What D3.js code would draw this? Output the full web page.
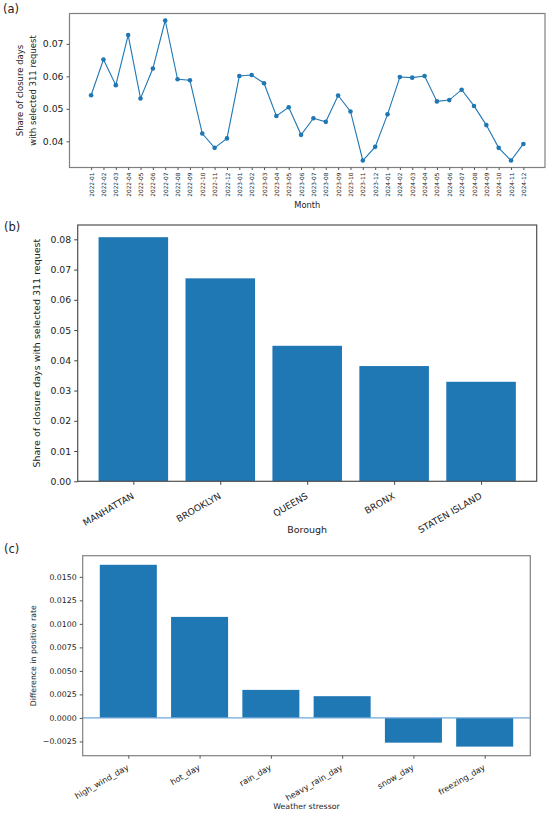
<!DOCTYPE html>
<html><head><meta charset="utf-8">
<script src="https://cdn.jsdelivr.net/npm/d3@7"></script>
<style>body{margin:0;background:#fff}svg{display:block}text{font-family:"DejaVu Sans",sans-serif;fill:#222}</style>
</head><body><svg id="c" width="550" height="813"></svg>
<script>
const months = ["2022-01","2022-02","2022-03","2022-04","2022-05","2022-06","2022-07","2022-08","2022-09","2022-10","2022-11","2022-12",
"2023-01","2023-02","2023-03","2023-04","2023-05","2023-06","2023-07","2023-08","2023-09","2023-10","2023-11","2023-12",
"2024-01","2024-02","2024-03","2024-04","2024-05","2024-06","2024-07","2024-08","2024-09","2024-10","2024-11","2024-12"];
const monthShare = [0.0542,0.0652,0.0573,0.0727,0.0532,0.0624,0.0772,0.0591,0.0588,0.0424,0.0380,0.0409,
0.0601,0.0604,0.0579,0.0478,0.0505,0.0420,0.0471,0.0460,0.0541,0.0492,0.0341,0.0383,
0.0483,0.0598,0.0596,0.0601,0.0523,0.0527,0.0559,0.0509,0.0450,0.0380,0.0341,0.0392];
const monthTicks = [0.04,0.05,0.06,0.07];

const boroughs = ["MANHATTAN","BROOKLYN","QUEENS","BRONX","STATEN ISLAND"];
const boroughShare = [0.0807,0.0671,0.0448,0.0381,0.0329];
const boroughTicks = [0,0.01,0.02,0.03,0.04,0.05,0.06,0.07,0.08];

const stressors = ["high_wind_day","hot_day","rain_day","heavy_rain_day","snow_day","freezing_day"];
const stressorDiff = [0.01628,0.01074,0.00298,0.00231,-0.00263,-0.00305];
const stressorTicks = [-0.0025,0,0.0025,0.005,0.0075,0.01,0.0125,0.015];

const blue = "#1f77b4";
const svg = d3.select("#c");

function pad(lo, hi){ const m=(hi-lo)*0.05; return [lo-m, hi+m]; }

function frame(g, x0, x1, y0, y1, col){
  g.append("rect").attr("x",x0).attr("y",y0).attr("width",x1-x0).attr("height",y1-y0)
   .attr("fill","none").attr("stroke",col).attr("stroke-width",1.2);
}

// ---------- Panel (a) ----------
{
  const L=69.5,R=545,T=13.5,B=167.5;
  const x=d3.scaleLinear().domain([-1.75, months.length-1+1.75]).range([L,R]);
  const y=d3.scaleLinear().domain(pad(d3.min(monthShare),d3.max(monthShare))).range([B,T]);
  const g=svg.append("g");
  g.append("path").datum(monthShare).attr("fill","none").attr("stroke",blue).attr("stroke-width",1.1)
   .attr("d",d3.line().x((d,i)=>x(i)).y(d=>y(d)));
  g.selectAll("circle").data(monthShare).join("circle").attr("cx",(d,i)=>x(i)).attr("cy",d=>y(d)).attr("r",2.3).attr("fill",blue);
  frame(g,L,R,T,B,"#808080");
  const ya=g.append("g").attr("transform",`translate(${L},0)`).call(d3.axisLeft(y).tickValues(monthTicks).tickFormat(d3.format(".2f")).tickSize(3).tickPadding(3));
  ya.select(".domain").remove();
  ya.selectAll("line").attr("stroke","#555");
  ya.selectAll("text").attr("font-size",9.3).attr("fill","#222");
  const xa=g.append("g").attr("transform",`translate(0,${B})`).call(d3.axisBottom(x).tickValues(d3.range(months.length)).tickFormat(i=>months[i]).tickSize(2.5).tickPadding(2));
  xa.select(".domain").remove();
  xa.selectAll("line").attr("stroke","#555");
  xa.selectAll("text").attr("font-size",5.8).attr("text-anchor","end").attr("dy","0.35em")
    .attr("transform","rotate(-90)").attr("x",-5).attr("y",0).attr("fill","#222");
  g.append("text").attr("x",(L+R)/2).attr("y",208).attr("text-anchor","middle").attr("font-size",8.3).text("Month");
  const yl=g.append("text").attr("transform",`translate(20.5,${(T+B)/2}) rotate(-90)`).attr("text-anchor","middle").attr("font-size",8.5);
  yl.append("tspan").attr("x",0).attr("dy","0.35em").text("Share of closure days");
  yl.append("tspan").attr("x",0).attr("dy","1.45em").text("with selected 311 request");
  svg.append("text").attr("x",3).attr("y",13).attr("font-size",11.5).text("(a)");
}

// ---------- Panel (b) ----------
{
  const L=77.7,R=536.7,T=225,B=481.3;
  const x=d3.scaleLinear().domain([-0.64, boroughs.length-1+0.64]).range([L,R]);
  const y=d3.scaleLinear().domain([0, d3.max(boroughShare)*1.05]).range([B,T]);
  const g=svg.append("g");
  const w=x(0.8)-x(0);
  g.selectAll("rect.bar").data(boroughShare).join("rect").attr("class","bar")
   .attr("x",(d,i)=>x(i)-w/2).attr("width",w).attr("y",d=>y(d)).attr("height",d=>y(0)-y(d)).attr("fill",blue);
  frame(g,L,R,T,B,"#505050");
  const ya=g.append("g").attr("transform",`translate(${L},0)`).call(d3.axisLeft(y).tickValues(boroughTicks).tickFormat(d3.format(".2f")).tickSize(3.5).tickPadding(3));
  ya.select(".domain").remove();
  ya.selectAll("line").attr("stroke","#444");
  ya.selectAll("text").attr("font-size",9.3).attr("fill","#222");
  const xa=g.append("g").attr("transform",`translate(0,${B})`).call(d3.axisBottom(x).tickValues(d3.range(boroughs.length)).tickFormat(i=>boroughs[i]).tickSize(3.5).tickPadding(3));
  xa.select(".domain").remove();
  xa.selectAll("line").attr("stroke","#444");
  xa.selectAll("text").attr("font-size",9.2).attr("text-anchor","end").attr("dy","0.75em")
    .attr("transform","translate(-2.5,10.5) rotate(-30)").attr("x",0).attr("y",0).attr("fill","#222");
  g.append("text").attr("x",(L+R)/2).attr("y",533).attr("text-anchor","middle").attr("font-size",9.5).text("Borough");
  g.append("text").attr("transform",`translate(37,${(T+B)/2}) rotate(-90)`).attr("text-anchor","middle").attr("dy","0.35em").attr("font-size",9.5)
   .text("Share of closure days with selected 311 request");
  svg.append("text").attr("x",4).attr("y",231).attr("font-size",11.5).text("(b)");
}

// ---------- Panel (c) ----------
{
  const L=82.7,R=530.3,T=555.7,B=755.7;
  const x=d3.scaleLinear().domain([-0.64, stressors.length-1+0.64]).range([L,R]);
  const y=d3.scaleLinear().domain(pad(d3.min(stressorDiff),d3.max(stressorDiff))).range([B,T]);
  const g=svg.append("g");
  const w=x(0.8)-x(0);
  g.selectAll("rect.bar").data(stressorDiff).join("rect").attr("class","bar")
   .attr("x",(d,i)=>x(i)-w/2).attr("width",w).attr("y",d=>y(Math.max(0,d))).attr("height",d=>Math.abs(y(0)-y(d))).attr("fill",blue);
  g.append("line").attr("x1",L).attr("x2",R).attr("y1",y(0)).attr("y2",y(0)).attr("stroke","#6fa8d8").attr("stroke-width",1.1);
  frame(g,L,R,T,B,"#808080");
  const ya=g.append("g").attr("transform",`translate(${L},0)`).call(d3.axisLeft(y).tickValues(stressorTicks).tickFormat(d=>d3.format(".4f")(d).replace("-","\u2212")).tickSize(3).tickPadding(3));
  ya.select(".domain").remove();
  ya.selectAll("line").attr("stroke","#555");
  ya.selectAll("text").attr("font-size",7.8).attr("fill","#222");
  const xa=g.append("g").attr("transform",`translate(0,${B})`).call(d3.axisBottom(x).tickValues(d3.range(stressors.length)).tickFormat(i=>stressors[i]).tickSize(3).tickPadding(3));
  xa.select(".domain").remove();
  xa.selectAll("line").attr("stroke","#555");
  xa.selectAll("text").attr("font-size",8.2).attr("text-anchor","end").attr("dy","0.75em")
    .attr("transform","translate(-2.5,8) rotate(-30)").attr("x",0).attr("y",0).attr("fill","#222");
  g.append("text").attr("x",(L+R)/2).attr("y",809).attr("text-anchor","middle").attr("font-size",7.8).text("Weather stressor");
  g.append("text").attr("transform",`translate(33,${(T+B)/2}) rotate(-90)`).attr("text-anchor","middle").attr("dy","0.35em").attr("font-size",7.8)
   .text("Difference in positive rate");
  svg.append("text").attr("x",4).attr("y",553).attr("font-size",11.5).text("(c)");
}
</script></body></html>
